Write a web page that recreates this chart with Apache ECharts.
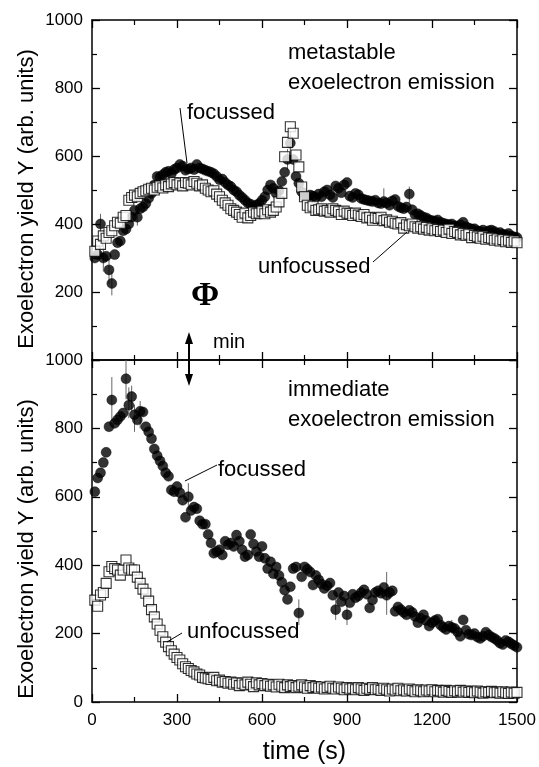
<!DOCTYPE html>
<html>
<head>
<meta charset="utf-8">
<script src="https://cdn.jsdelivr.net/npm/echarts@6/dist/echarts.min.js"></script>
<style>
html,body{margin:0;padding:0;background:#fff;}
#chart{width:539px;height:767px;}
</style>
</head>
<body>
<div id="chart"></div>
<script>
// time (s) of each measurement
const time = [10,20,30,40,50,60,70,80,90,100,110,120,130,140,150,160,170,180,190,200,
210,220,230,240,250,260,270,280,290,300,310,320,330,340,350,360,370,380,390,400,
410,420,430,440,450,460,470,480,490,500,510,520,530,540,550,560,570,580,590,600,
610,620,630,640,650,660,670,680,690,700,710,720,730,740,750,760,770,780,790,800,
810,820,830,840,850,860,870,880,890,900,910,920,930,940,950,960,970,980,990,1000,
1010,1020,1030,1040,1050,1060,1070,1080,1090,1100,1110,1120,1130,1140,1150,1160,1170,1180,1190,1200,
1210,1220,1230,1240,1250,1260,1270,1280,1290,1300,1310,1320,1330,1340,1350,1360,1370,1380,1390,1400,
1410,1420,1430,1440,1450,1460,1470,1480,1490,1500];

// metastable exoelectron emission (top panel)
const metaFocussed = [300,310,400,300,305,265,225,310,345,350,380,385,400,420,440,420,445,450,460,476,
490,515,540,538,545,552,555,548,560,565,575,570,558,562,565,560,575,565,562,558,
555,552,548,540,530,532,522,515,510,500,495,485,478,470,462,458,452,456,460,470,
480,500,515,505,490,498,525,552,590,638,590,540,520,495,480,478,485,482,478,488,
480,495,500,486,478,512,505,492,515,522,482,478,490,486,475,472,470,468,466,470,
462,460,466,462,455,468,472,452,448,445,450,488,442,428,430,425,420,418,412,410,
408,412,405,402,400,398,400,395,392,398,405,392,388,385,386,380,378,382,376,380,
382,378,372,375,370,368,372,365,362,360];
const metaUnfocussed = [320,350,340,365,358,375,380,395,405,402,420,425,470,478,485,480,490,495,498,502,
505,500,508,512,506,515,510,518,522,515,520,512,522,520,515,525,520,512,515,505,
500,495,498,488,480,470,462,455,445,440,435,428,420,432,418,425,435,430,432,438,
430,442,435,440,450,465,490,598,640,686,667,603,568,509,480,455,448,452,440,442,
445,438,440,435,445,440,436,428,438,432,430,425,432,426,422,428,418,420,411,418,
416,420,410,412,405,408,402,400,404,388,398,395,400,392,388,392,385,390,382,386,
380,384,378,382,375,385,372,378,375,368,372,367,370,360,366,362,358,364,355,360,
358,352,356,350,354,348,352,346,350,345];

// immediate exoelectron emission (bottom panel)
const immFocussed = [615,655,670,700,730,805,883,815,825,835,845,945,868,893,840,825,850,848,805,790,
770,740,720,705,690,670,660,620,615,630,612,590,540,600,560,570,565,530,520,520,
490,465,435,440,445,430,470,460,465,455,488,470,445,425,430,490,462,440,425,455,
420,390,410,375,395,370,350,327,300,337,390,395,260,366,395,388,380,342,370,357,
345,332,340,348,312,270,320,293,310,255,290,315,305,310,320,328,315,275,298,320,
325,318,335,312,320,325,265,278,270,262,255,268,262,250,232,245,255,238,222,232,
238,242,225,218,212,222,218,215,205,192,240,210,198,196,200,190,186,192,204,196,
190,186,180,172,168,180,176,170,165,160];
const immUnfocussed = [298,280,313,320,347,381,396,390,386,371,386,415,392,386,386,365,347,330,318,295,
270,249,228,210,191,175,162,150,140,130,123,112,103,98,92,88,82,79,72,70,
68,66,72,62,64,58,60,55,58,52,56,48,55,50,58,52,45,56,50,54,
48,52,46,50,44,52,46,42,50,45,48,42,46,50,44,40,48,42,45,40,
44,38,42,46,40,38,44,40,36,42,38,40,36,42,38,34,40,37,42,36,
38,34,40,36,32,38,35,40,33,36,32,38,34,30,36,33,30,35,32,36,
30,34,32,29,34,31,28,33,30,34,29,32,28,31,27,32,29,26,30,28,
31,27,29,26,30,27,25,29,26,28];

// error bars (time, low, high) on selected points
const metaErrTime = [30,40,60,70,160,690,700,1030,1120];
const metaErrLow  = [340,260,225,190,395,560,600,478,462];
const metaErrHigh = [430,340,300,260,450,620,680,505,510];
const immErrTime  = [70,120,130,140,150,170,340,730,860,900,1040,1270];
const immErrLow   = [820,885,830,850,790,800,560,225,240,225,255,200];
const immErrHigh  = [950,1000,920,925,870,880,640,300,300,285,380,240];

const xTicks = [0,300,600,900,1200,1500];
const yTicks = [0,200,400,600,800,1000];

function pairs(vals){ return time.map((t,i)=>[t, vals[i]]); }
function errPairs(ts, lo, hi){ return ts.map((t,i)=>[t, lo[i], hi[i]]); }

const FONT = '"Liberation Sans", Arial, Helvetica, sans-serif';
const axisLineStyle = {color:'#000', width:1.5};

function xAxisDef(grid, pos, labels, name){
  return {
    gridIndex: grid, type:'value', position: pos,
    min: xTicks[0], max: xTicks[xTicks.length-1], interval: 300,
    axisLine:{show:true, onZero:false, lineStyle:axisLineStyle},
    axisTick:{show:true, inside:true, length:8, lineStyle:{color:'#000', width:1.3}},
    minorTick:{show:true, splitNumber:2, length:5, lineStyle:{color:'#000', width:1.2}},
    axisLabel:{show:labels, color:'#000', fontSize:17, fontFamily:FONT, margin:10,
      formatter: v => String(v)},
    splitLine:{show:false},
    name: name || '', nameLocation:'middle', nameGap:38,
    nameTextStyle:{color:'#000', fontSize:25, fontFamily:FONT}
  };
}
function yAxisDef(grid, pos, labels, hideZero){
  return {
    gridIndex: grid, type:'value', position: pos,
    min: yTicks[0], max: yTicks[yTicks.length-1], interval: 200,
    axisLine:{show:true, onZero:false, lineStyle:axisLineStyle},
    axisTick:{show:true, inside:true, length:8, lineStyle:{color:'#000', width:1.3}},
    minorTick:{show:true, splitNumber:2, length:5, lineStyle:{color:'#000', width:1.2}},
    axisLabel:{show:labels, color:'#000', fontSize:17, fontFamily:FONT, margin:9,
      formatter: v => (hideZero && v === 0) ? '' : String(v)},
    splitLine:{show:false}
  };
}

const circleStyle = {color:'#000', borderColor:'#000', borderWidth:0.5};
const squareStyle = {color:'#fff', borderColor:'#000', borderWidth:1.1};

function errSeries(xi, yi, data){
  return {type:'custom', xAxisIndex:xi, yAxisIndex:yi, z:1, silent:true,
    data:data,
    renderItem:function(params, api){
      const a = api.coord([api.value(0), api.value(1)]);
      const b = api.coord([api.value(0), api.value(2)]);
      return {type:'line', shape:{x1:a[0], y1:a[1], x2:b[0], y2:b[1]},
        style:{stroke:'#666', lineWidth:1}};
    }};
}

function txt(x, y, s, size, extra){
  return Object.assign({type:'text', x:x, y:y, z:100,
    style:Object.assign({text:s, font: size + 'px ' + FONT, fill:'#000',
      align:'left', verticalAlign:'middle', textAlign:'left', textVerticalAlign:'middle'}, extra||{})});
}
function seg(x1,y1,x2,y2,w){
  return {type:'line', z:100, shape:{x1:x1,y1:y1,x2:x2,y2:y2}, style:{stroke:'#000', lineWidth:w||1}};
}

const chart = echarts.init(document.getElementById('chart'), null, {renderer:'canvas'});
chart.setOption({
  animation:false,
  backgroundColor:'#fff',
  grid:[
    {left:92, right:22, top:20, height:340},
    {left:92, right:22, top:360, height:342}
  ],
  xAxis:[
    xAxisDef(0,'bottom',false),
    xAxisDef(0,'top',false),
    xAxisDef(1,'bottom',true,'time (s)'),
    xAxisDef(1,'top',false)
  ],
  yAxis:[
    yAxisDef(0,'left',true,true),
    yAxisDef(0,'right',false,false),
    yAxisDef(1,'left',true,false),
    yAxisDef(1,'right',false,false)
  ],
  series:[
    errSeries(0,0,errPairs(metaErrTime, metaErrLow, metaErrHigh)),
    errSeries(2,2,errPairs(immErrTime, immErrLow, immErrHigh)),
    {name:'metastable focussed', type:'scatter', xAxisIndex:0, yAxisIndex:0, z:2,
     symbol:'circle', symbolSize:10, itemStyle:circleStyle, data:pairs(metaFocussed)},
    {name:'metastable unfocussed', type:'scatter', xAxisIndex:0, yAxisIndex:0, z:3,
     symbol:'rect', symbolSize:10, itemStyle:squareStyle, data:pairs(metaUnfocussed)},
    {name:'immediate focussed', type:'scatter', xAxisIndex:2, yAxisIndex:2, z:2,
     symbol:'circle', symbolSize:10, itemStyle:circleStyle, data:pairs(immFocussed)},
    {name:'immediate unfocussed', type:'scatter', xAxisIndex:2, yAxisIndex:2, z:3,
     symbol:'rect', symbolSize:10, itemStyle:squareStyle, data:pairs(immUnfocussed)}
  ],
  graphic:[
    // y-axis titles
    txt(27, 199, 'Exoelectron yield Y (arb. units)', 22, {align:'center', textAlign:'center'}),
    txt(27, 549, 'Exoelectron yield Y (arb. units)', 22, {align:'center', textAlign:'center'}),
    // top panel annotations
    txt(288, 53, 'metastable', 22),
    txt(288, 83, 'exoelectron emission', 22),
    txt(187, 113, 'focussed', 22),
    seg(180,108,187,163),
    txt(258, 267, 'unfocussed', 22),
    seg(373,262,407,232),
    // bottom panel annotations
    txt(288, 390, 'immediate', 22),
    txt(288, 420, 'exoelectron emission', 22),
    txt(218, 470, 'focussed', 22),
    seg(185,481,217,465),
    txt(187, 632, 'unfocussed', 22),
    seg(167,642,182,633),
    // Phi_min marker
    {type:'text', x:205, y:296, z:100, style:{text:'\u03A6', font:'bold 34px "Liberation Serif", "DejaVu Serif", serif',
      fill:'#000', align:'center', verticalAlign:'middle', textAlign:'center', textVerticalAlign:'middle'}},
    txt(213, 342, 'min', 20),
    seg(189,340,189,378,2),
    {type:'polygon', z:100, shape:{points:[[189,332],[185,344],[193,344]]}, style:{fill:'#000'}},
    {type:'polygon', z:100, shape:{points:[[189,386],[185,374],[193,374]]}, style:{fill:'#000'}}
  ]
});
// rotate y titles
const opt = chart.getOption();
opt.graphic[0].elements[0].rotation = Math.PI/2;
opt.graphic[0].elements[1].rotation = Math.PI/2;
chart.setOption({graphic: opt.graphic});
</script>
</body>
</html>
